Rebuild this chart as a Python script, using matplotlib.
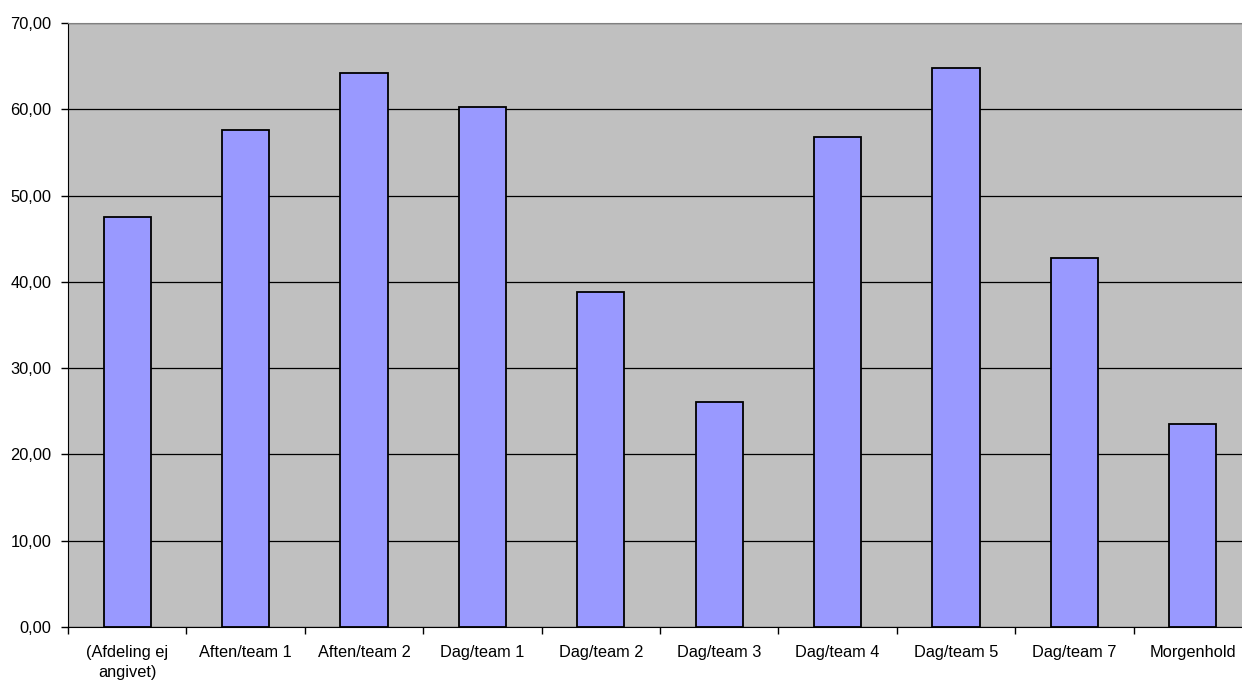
import numpy as np
import matplotlib.pyplot as plt
from matplotlib.ticker import FixedLocator, NullFormatter

categories = ["(Afdeling ej\nangivet)", "Aften/team 1", "Aften/team 2", "Dag/team 1",
              "Dag/team 2", "Dag/team 3", "Dag/team 4", "Dag/team 5", "Dag/team 7",
              "Morgenhold"]
values = [47.5, 57.6, 64.2, 60.3, 38.8, 26.1, 56.8, 64.8, 42.8, 23.5]
yticks = [0, 10, 20, 30, 40, 50, 60, 70]

plt.rcParams['font.family'] = ['Liberation Sans', 'DejaVu Sans']

fig = plt.figure(figsize=(12.42, 6.82), dpi=100)
ax = fig.add_axes([68 / 1242, 55 / 682, (1252 - 68) / 1242, 604 / 682])
ax.set_facecolor('#C0C0C0')

x = np.arange(len(categories))
ax.bar(x, values, width=0.4, color='#9999FF', edgecolor='black', linewidth=1.3, zorder=3)

ax.set_xlim(-0.5, len(categories) - 0.5)
ax.set_ylim(0, 70)
ax.set_yticks(yticks)
ax.set_yticklabels([f"{v:.2f}".replace('.', ',') for v in yticks], fontsize=11.8)
ax.yaxis.grid(True, color='black', linewidth=0.9, zorder=1)

ax.set_xticks(x)
ax.set_xticklabels(categories, fontsize=11.8, va='top', linespacing=1.4)
ax.tick_params(axis='x', which='major', length=0, pad=13)
ax.xaxis.set_minor_locator(FixedLocator(np.arange(-0.5, len(categories), 1)))
ax.xaxis.set_minor_formatter(NullFormatter())
ax.tick_params(axis='x', which='minor', length=5, width=1, color='black')
ax.tick_params(axis='y', length=5, width=1, color='black', pad=7)

for s in ['top', 'right']:
    ax.spines[s].set_color('#808080')
ax.spines['left'].set_color('black')
ax.spines['bottom'].set_color('black')

fig.savefig('out.png', dpi=100)
